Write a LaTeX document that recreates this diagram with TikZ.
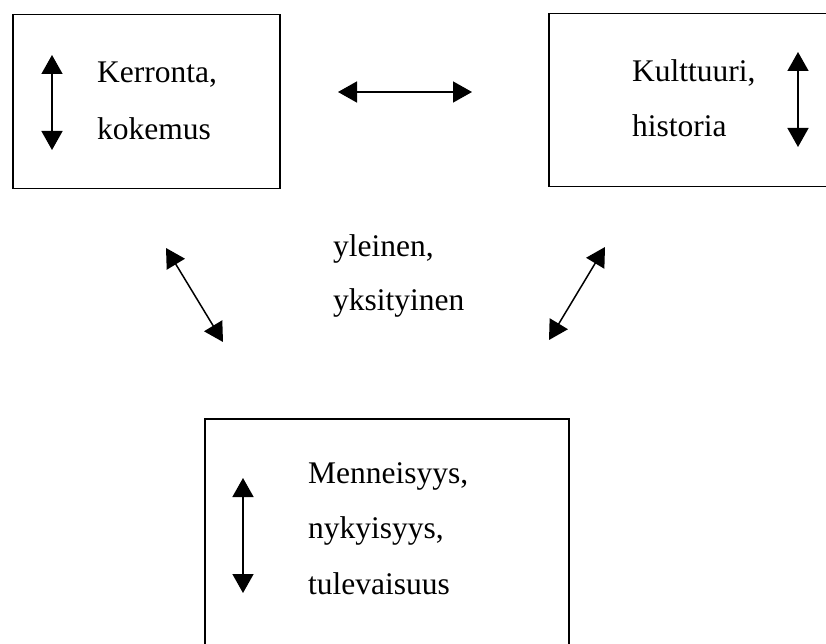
\documentclass[tikz,border=0pt]{standalone}
\usepackage{fontspec}
\setmainfont{Liberation Serif}
\usetikzlibrary{arrows.meta}
\tikzset{
  frame/.style={draw, line width=1.5pt, anchor=north west, inner sep=0pt},
  lbl/.style={anchor=base west, inner sep=0pt, font=\fontsize{31.5}{31.5}\selectfont},
  dbl/.style={line width=1.5pt, {Triangle[length=19pt,width=21pt]}-{Triangle[length=19pt,width=21pt]}}
}
\begin{document}
\begin{tikzpicture}[x=1pt,y=-1pt]
\useasboundingbox (0,0) rectangle (826,644);
\clip (0,0) rectangle (826,644);
% boxes
\node[frame, minimum width=267pt, minimum height=174pt] (kbox) at (12,14) {};
\node[frame, minimum width=300pt, minimum height=173pt] (hbox) at (548,13) {};
\node[frame, minimum width=364pt, minimum height=300pt] (mbox) at (204,418) {};
% texts
\node[lbl] (k1) at (97,83) {Kerronta,};
\node[lbl] (k2) at (97,140) {kokemus};
\node[lbl] (h1) at (632,82) {Kulttuuri,};
\node[lbl] (h2) at (632,137) {historia};
\node[lbl] (m1) at (308,483) {Menneisyys,};
\node[lbl] (m2) at (308,538) {nykyisyys,};
\node[lbl] (m3) at (308,594) {tulevaisuus};
\node[lbl] (y1) at (333,256) {yleinen,};
\node[lbl] (y2) at (333,310) {yksityinen};
% arrow ends
\coordinate (ka1) at (52,55);
\coordinate (ka2) at (52,150);
\coordinate (ha1) at (798,52);
\coordinate (ha2) at (798,147);
\coordinate (ma1) at (243,478);
\coordinate (ma2) at (243,593);
\coordinate (hz1) at (338,92);
\coordinate (hz2) at (472,92);
\coordinate (dl1) at (166,248);
\coordinate (dl2) at (223,342);
\coordinate (dr1) at (605,247);
\coordinate (dr2) at (549,340);
% arrows
\draw[dbl] (ka1) -- (ka2);
\draw[dbl] (ha1) -- (ha2);
\draw[dbl] (ma1) -- (ma2);
\draw[dbl] (hz1) -- (hz2);
\draw[dbl] (dl1) -- (dl2);
\draw[dbl] (dr1) -- (dr2);
\end{tikzpicture}
\end{document}
